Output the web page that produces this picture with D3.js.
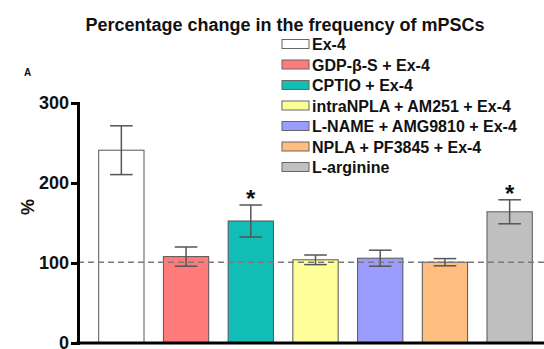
<!DOCTYPE html>
<html>
<head>
<meta charset="utf-8">
<style>
  body { margin: 0; background: #fff; }
  svg text { font-family: "Liberation Sans", Arial, sans-serif; font-weight: bold; fill: #111; }
</style>
</head>
<body>
<div id="chart"></div>
<script src="https://cdn.jsdelivr.net/npm/d3@7"></script>
<script>
// data
var groups = ["Ex-4", "GDP-\u03B2-S + Ex-4", "CPTIO + Ex-4", "intraNPLA + AM251 + Ex-4",
              "L-NAME + AMG9810 + Ex-4", "NPLA + PF3845 + Ex-4", "L-arginine"];
var means  = [241, 108, 152.5, 104, 106, 101, 164];
var sems   = [30.5, 12, 20, 6, 10, 4.5, 15];
var signif = [false, false, true, false, false, false, true];
var colors = ["#ffffff", "#ff7b7b", "#12bdb6", "#ffff99", "#9c9cff", "#ffbe7f", "#c0c0c0"];
var yTicks = [0, 100, 200, 300];
var baseline = 101;

var w = 544, h = 349;
var svg = d3.select("#chart").append("svg").attr("width", w).attr("height", h);

// scales
var x = d3.scaleBand().domain(groups).range([89, 542]).paddingInner(0.3).paddingOuter(0.15);
var y = d3.scaleLinear().domain([0, 300]).range([343, 103]);

// title
svg.append("text").attr("x", 285).attr("y", 31).attr("text-anchor", "middle")
  .style("font-size", "18px").text("Percentage change in the frequency of mPSCs");

svg.append("text").attr("x", 24).attr("y", 76).style("font-size", "10px").text("A");

// bars
svg.selectAll("rect.bar").data(groups).enter().append("rect")
  .attr("class", "bar")
  .attr("x", function(d) { return x(d); })
  .attr("y", function(d, i) { return y(means[i]); })
  .attr("width", x.bandwidth())
  .attr("height", function(d, i) { return y(0) - y(means[i]); })
  .attr("fill", function(d, i) { return colors[i]; })
  .attr("stroke", "#555").attr("stroke-width", 1);

// error bars
var cap = x.bandwidth() / 4;
groups.forEach(function(g, i) {
  var cx = x(g) + x.bandwidth() / 2;
  var e = svg.append("g").attr("stroke", "#555").attr("stroke-width", 1.5);
  e.append("line").attr("x1", cx).attr("x2", cx).attr("y1", y(means[i] + sems[i])).attr("y2", y(means[i] - sems[i]));
  e.append("line").attr("x1", cx - cap).attr("x2", cx + cap).attr("y1", y(means[i] + sems[i])).attr("y2", y(means[i] + sems[i]));
  e.append("line").attr("x1", cx - cap).attr("x2", cx + cap).attr("y1", y(means[i] - sems[i])).attr("y2", y(means[i] - sems[i]));
  if (signif[i]) {
    svg.append("text").attr("x", cx).attr("y", y(means[i] + sems[i]) + 2).attr("text-anchor", "middle")
      .style("font-size", "24px").text("*");
  }
});

// dashed reference line
svg.append("line").attr("x1", 78).attr("x2", w).attr("y1", y(baseline)).attr("y2", y(baseline))
  .attr("stroke", "#7a7a7a").attr("stroke-width", 1.6).attr("stroke-dasharray", "6,4");

// y axis
var yAxis = svg.append("g").attr("transform", "translate(78,0)")
  .call(d3.axisLeft(y).tickValues(yTicks).tickSize(7).tickPadding(2));
yAxis.select(".domain").attr("stroke", "#000").attr("stroke-width", 3);
yAxis.selectAll(".tick line").attr("stroke", "#000").attr("stroke-width", 3);
yAxis.selectAll(".tick text").style("font-size", "18px")
  .style("font-family", "'Liberation Sans', Arial, sans-serif").style("font-weight", "bold").attr("fill", "#111");

// x axis line
svg.append("line").attr("x1", 76.5).attr("x2", w).attr("y1", y(0)).attr("y2", y(0))
  .attr("stroke", "#000").attr("stroke-width", 3);

svg.append("text").attr("transform", "translate(34,207) rotate(-90)").attr("text-anchor", "middle")
  .style("font-size", "18px").text("%");

// legend
var leg = svg.selectAll("g.leg").data(groups).enter().append("g")
  .attr("class", "leg")
  .attr("transform", function(d, i) { return "translate(282," + (44 + i * 20.5) + ")"; });
leg.append("rect").attr("x", 0).attr("y", -4.5).attr("width", 27).attr("height", 9)
  .attr("fill", function(d, i) { return colors[i]; }).attr("stroke", "#666").attr("stroke-width", 1);
leg.append("text").attr("x", 30).attr("y", 6).style("font-size", "16px").text(function(d) { return d; });
</script>
</body>
</html>
